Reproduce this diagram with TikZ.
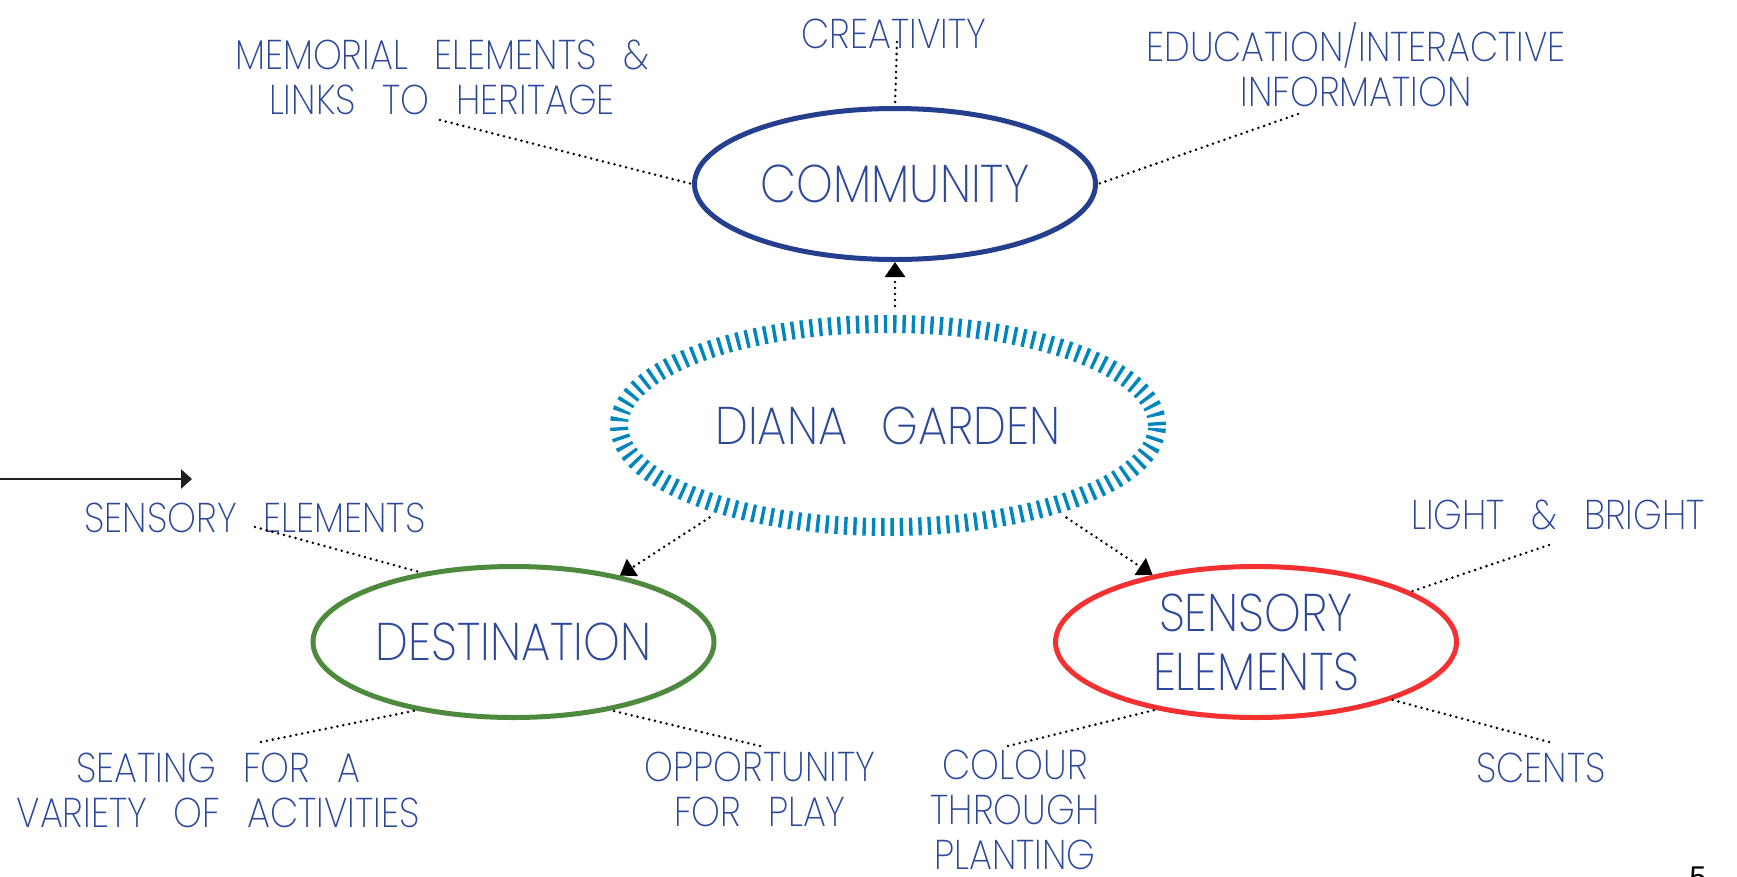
\documentclass[tikz,border=0pt]{standalone}
\usepackage{fontspec}
\usetikzlibrary{shapes.geometric,arrows.meta}
\setmainfont{Poppins}[UprightFont=* ExtraLight, FakeStretch=0.88, WordSpace=2.6]
\newfontfamily\numfont{Liberation Sans}
\definecolor{txtblue}{RGB}{44,72,155}
\definecolor{commblue}{RGB}{36,63,142}
\definecolor{destgreen}{RGB}{78,138,62}
\definecolor{sensred}{RGB}{245,48,48}
\definecolor{dgcyan}{RGB}{0,134,190}
\newcommand\lblfont{\fontsize{41.6}{45}\selectfont}
\newcommand\bigfont{\fontsize{53}{57}\selectfont}
\tikzset{
  lbl/.style={text=txtblue, font=\lblfont, inner sep=0pt, align=center, anchor=base},
  bubble/.style={ellipse, draw, line width=5pt, inner sep=0pt, minimum width=401pt, minimum height=151pt, text=txtblue, font=\bigfont, align=center},
  dotl/.style={line width=2.8pt, dash pattern=on 0pt off 6pt, line cap=round, black},
  arr/.style={dotl, -{Triangle[length=15pt,width=20pt]}},
}
\begin{document}
\begin{tikzpicture}[x=1pt,y=-1pt]
\useasboundingbox[fill=white] (0,0) rectangle (1737,876);
% bubbles
\node[bubble, draw=commblue] (comm) at (895,184) {COMMUNITY};
\node[bubble, draw=destgreen] (dest) at (513.5,642) {DESTINATION};
\node[bubble, draw=sensred] (sens) at (1256,642) {SENSORY\\[2pt]ELEMENTS};
\node[ellipse, draw=dgcyan, line width=18pt, dash pattern=on 3.4pt off 5.9pt, inner sep=0pt,
      minimum width=538pt, minimum height=203pt, text=txtblue, font=\bigfont] (dg) at (888,425.5) {DIANA GARDEN};
% labels (base = baseline of the last line)
\node[lbl] (mem) at (442,114) {MEMORIAL ELEMENTS \&\\LINKS TO HERITAGE};
\node[lbl] (creat) at (894,48) {CREATIVITY};
\node[lbl] (edu) at (1356,106) {EDUCATION/INTERACTIVE\\INFORMATION};
\node[lbl] (sl) at (255,532) {SENSORY ELEMENTS};
\node[lbl] (light) at (1558,529) {LIGHT \& BRIGHT};
\node[lbl] (seat) at (218,827) {SEATING FOR A\\VARIETY OF ACTIVITIES};
\node[lbl] (opp) at (760,826) {OPPORTUNITY\\FOR PLAY};
\node[lbl] (col) at (1015,869) {COLOUR\\THROUGH\\PLANTING};
\node[lbl] (scents) at (1541,782) {SCENTS};
\node[anchor=base, font=\numfont\fontsize{30}{32}\selectfont, inner sep=0pt] (pg) at (1698,887) {5};
% free ends of connectors
\coordinate (memE) at (440,120);
\coordinate (creatE) at (897,42);
\coordinate (eduE) at (1298,114);
\coordinate (slE) at (255,527);
\coordinate (lightE) at (1549,545);
\coordinate (seatE) at (261,742);
\coordinate (oppE) at (760,746);
\coordinate (colE) at (1008,746);
\coordinate (scentsE) at (1549,742);
\coordinate (inA) at (0,479);
\coordinate (inB) at (192,479);
% connectors
\draw[dotl] (memE) -- (comm.west);
\draw[dotl] (creatE) -- (comm.north);
\draw[dotl] (eduE) -- (comm.east);
\draw[dotl] (slE) -- (dest.143);
\draw[dotl] (seatE) -- (dest.215.8);
\draw[dotl] (oppE) -- (dest.325.6);
\draw[dotl] (lightE) -- (sens.18.7);
\draw[dotl] (scentsE) -- (sens.337.3);
\draw[dotl] (colE) -- (sens.214.9);
\draw[arr, shorten <=9pt] (dg.north -| comm.south) -- (comm.south);
\draw[arr, shorten <=9pt] (dg.207.8) -- (dest.32.3);
\draw[arr, shorten <=9pt] (dg.333.3) -- (sens.147.7);
\draw[line width=2.7pt, color={rgb,255:red,35;green,31;blue,32}, -{Triangle[length=11pt,width=19pt]}] (inA) -- (inB);
\end{tikzpicture}
\end{document}
